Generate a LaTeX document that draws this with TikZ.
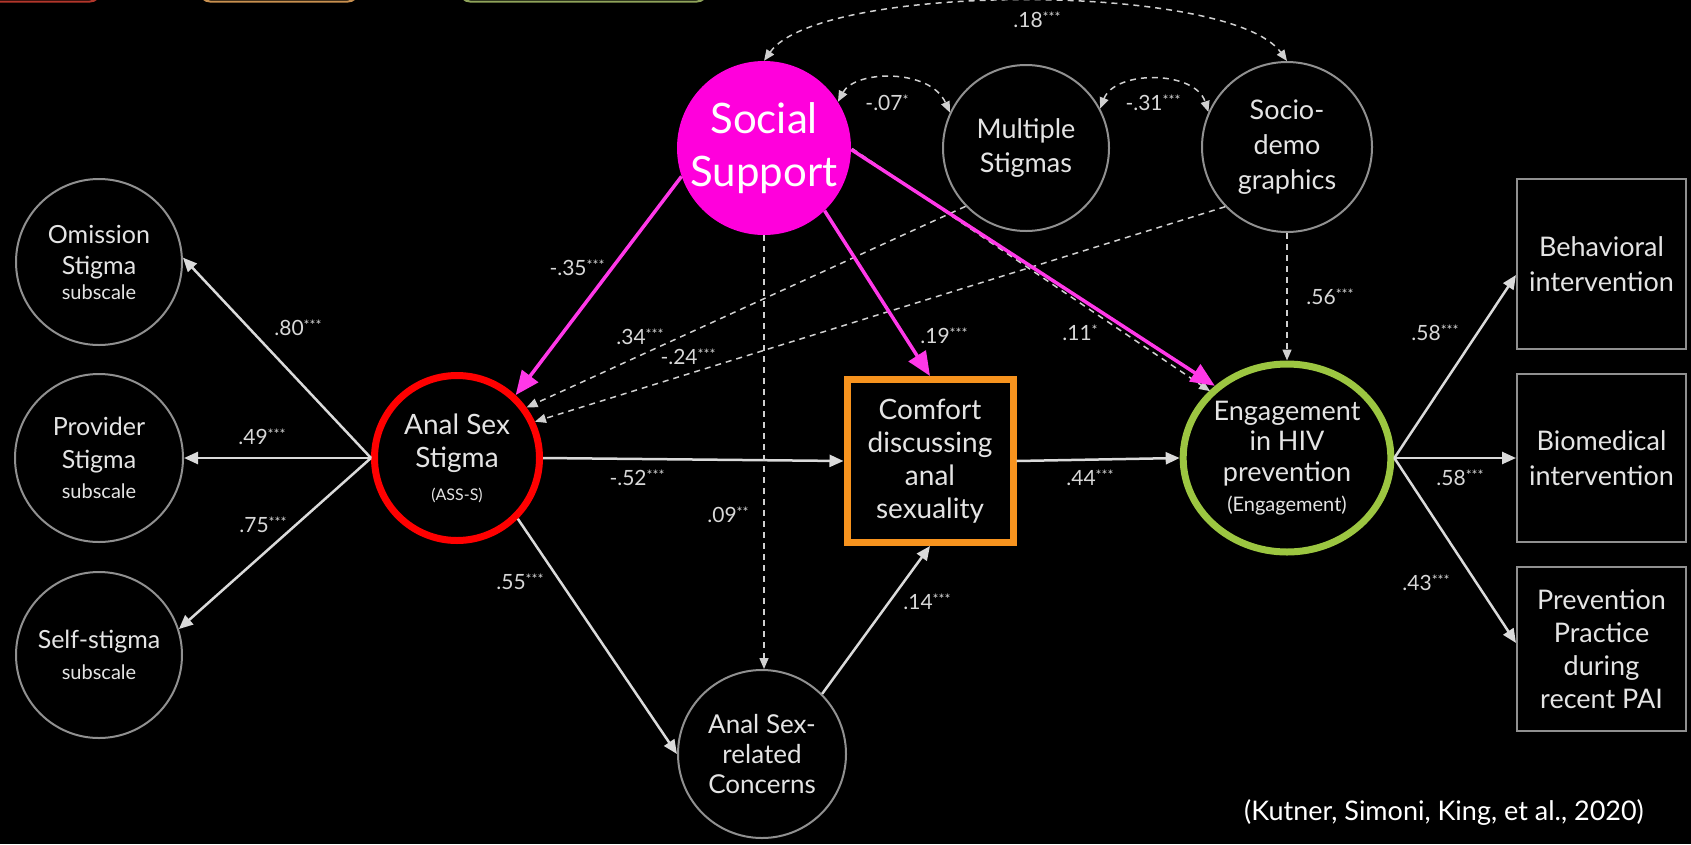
\documentclass[tikz,border=0pt]{standalone}
\usepackage{fontspec}
\setmainfont{Lato}
\usetikzlibrary{arrows.meta,shapes.geometric,calc}
\definecolor{txt}{HTML}{E4E4E4}
\definecolor{lblc}{HTML}{D8D8D8}
\definecolor{ring}{HTML}{909090}
\definecolor{arr}{HTML}{DADADA}
\definecolor{dshc}{HTML}{D0D0D0}
\definecolor{mag}{HTML}{FF00DC}
\definecolor{magl}{HTML}{FF38E8}
\definecolor{redc}{HTML}{FF0000}
\definecolor{orc}{HTML}{F7931E}
\definecolor{grc}{HTML}{9CC641}
\definecolor{legred}{HTML}{B3362B}
\definecolor{legor}{HTML}{C8904F}
\definecolor{leggr}{HTML}{8FA35A}
\newcommand{\myfs}[2]{\fontsize{#1}{#2}\selectfont}
\newcommand{\stars}[1]{\raisebox{5pt}{\myfs{14}{14}#1}}
\tikzset{
  circ/.style={circle, draw=ring, line width=2pt, text=txt, align=center, inner sep=0pt, minimum size=#1},
  rbox/.style={rectangle, draw=ring, line width=2pt, text=txt, align=center, inner sep=0pt, minimum width=169pt, minimum height=#1, font=\myfs{27}{35}},
  arw/.style={draw=arr, line width=2.5pt, -{Triangle[length=14pt,width=12pt]}},
  dsh/.style={draw=dshc, line width=1.5pt, dash pattern=on 6pt off 5pt, -{Triangle[length=11pt,width=9pt]}},
  dshb/.style={draw=dshc, line width=1.5pt, dash pattern=on 6pt off 5pt, {Triangle[length=11pt,width=9pt]}-{Triangle[length=11pt,width=9pt]}},
  marw/.style={draw=magl, line width=3.5pt, -{Triangle[length=24pt,width=20pt]}},
  lbl/.style={text=lblc, font=\myfs{21}{24}, inner sep=0pt}
}
\begin{document}
\begin{tikzpicture}[x=1pt,y=-1pt]
\fill[black] (0,0) rectangle (1691,844);
\useasboundingbox (0,0) rectangle (1691,844);
% clipped legend boxes at the top edge
\begin{scope}
\clip (0,0) rectangle (1691,844);
\draw[legred, line width=2pt, rounded corners=10pt] (-20,-60) rectangle (100,1.5);
\draw[legor, line width=2pt, rounded corners=10pt] (200,-60) rectangle (358,1.5);
\draw[leggr, line width=2pt, rounded corners=10pt] (460,-60) rectangle (707,1.5);
\end{scope}

% nodes
\node[circ=166pt, font=\myfs{25}{31}] (om) at (99,262) {Omission\\Stigma\\[-6pt]{\myfs{20}{24}subscale}};
\node[circ=168pt, font=\myfs{25}{33}] (prov) at (99,458) {Provider\\Stigma\\[-3pt]{\myfs{20}{24}subscale}};
\node[circ=166pt, font=\myfs{25}{31}] (self) at (99,655) {Self-stigma\\{\myfs{20}{24}subscale}};
\node[circle, draw=redc, line width=7pt, text=txt, align=center, inner sep=0pt, minimum size=165pt, font=\myfs{28}{33}] (ass) at (457,458)
  {Anal Sex\\Stigma\\{\myfs{16}{20}(ASS-S)}};
\node[circle, fill=mag, text=white, align=center, inner sep=0pt, minimum size=174pt, font=\myfs{42}{53}] (ss) at (764,148)
  {Social\\Support};
\node[circ=166pt, font=\myfs{27}{34}] (ms) at (1026,148) {Multiple\\Stigmas};
\node[circ=170pt, font=\myfs{27}{35}] (socio) at (1287,147) {Socio-\\demo\\graphics};
\node[rectangle, draw=orc, line width=7pt, text=txt, align=center, inner sep=0pt, minimum width=166pt, minimum height=163pt, font=\myfs{28}{33}] (comf) at (930,461)
  {Comfort\\discussing\\anal\\sexuality};
\node[circ=168pt, font=\myfs{26}{30}] (asrc) at (762,754) {Anal Sex-\\related\\Concerns};
\node[ellipse, draw=grc, line width=7pt, text=txt, align=center, inner sep=0pt, minimum width=180pt, minimum height=188pt, font=\myfs{27}{30.5}] (eng) at (1287,458)
  {Engagement\\in HIV\\prevention\\{\myfs{20}{24}(Engagement)}};
\node[rbox=170pt] (beh) at (1601.5,264) {Behavioral\\intervention};
\node[rbox=168pt] (bio) at (1601.5,458) {Biomedical\\intervention};
\node[rbox=164pt, font=\myfs{27}{33}] (prev) at (1601.5,649) {Prevention\\Practice\\during\\recent PAI};

% measurement arrows
\draw[arw] (ass.west) -- (om.3);
\draw[arw] (ass.west) -- (prov.east);
\draw[arw] (ass.west) -- (self.18);
\draw[arw] (ass.east) -- (comf.west);
\draw[arw] (ass.-45) -- (asrc.west);
\draw[arw] (asrc.45) -- (comf.south);
\draw[arw] (comf.east) -- (eng.west);
\draw[arw] (eng.east) -- ([yshift=-11pt]beh.west);
\draw[arw] (eng.east) -- (bio.west);
\draw[arw] (eng.east) -- ([yshift=6pt]prev.west);

% dashed covariate paths
\draw[dsh] (ms.224) -- (ass.36);
\draw[dsh] (socio.224) -- (ass.25);
\draw[dsh] (ss.south) -- (ss.south |- asrc.north);
\draw[dsh] (socio.south) -- (socio.south |- eng.north);
\draw[dsh] ([xshift=1pt,yshift=1pt]ss.-1) -- ([xshift=-2pt,yshift=-3pt]eng.137);
\draw[dshb] (ss.north) .. controls (820,-18) and (1230,-18) .. (socio.north);
\draw[dshb] (ss.32) .. controls (855,70) and (930,68) .. (ms.155);
\draw[dshb] (ms.28) .. controls (1115,70) and (1195,70) .. (socio.156);

% social support paths (highlighted)
\draw[marw] (ss.199) -- (ass.47);
\draw[marw] (ss.-46) -- (comf.north);
\draw[marw] (ss.-1) -- (eng.135);

% labels
\node[lbl] (l18) at (1037,20) {.18\stars{***}};
\node[lbl] (l07) at (887,103) {-.07\stars{*}};
\node[lbl] (l31) at (1153,103) {-.31\stars{***}};
\node[lbl] (l35) at (577,268) {-.35\stars{***}};
\node[lbl] (l34) at (640,337) {.34\stars{***}};
\node[lbl] (l24) at (688,357) {-.24\stars{***}};
\node[lbl] (l19) at (944,336) {.19\stars{***}};
\node[lbl] (l52) at (637,478) {-.52\stars{***}};
\node[lbl] (l09) at (728,515) {.09\stars{**}};
\node[lbl] (l55) at (520,582) {.55\stars{***}};
\node[lbl] (l80) at (298,328) {.80\stars{***}};
\node[lbl] (l49) at (262,437) {.49\stars{***}};
\node[lbl] (l75) at (263,525) {.75\stars{***}};
\node[lbl] (l14) at (927,602) {.14\stars{***}};
\node[lbl] (l11) at (1080,333) {.11\stars{*}};
\node[lbl] (l56) at (1330,297) {.56\stars{***}};
\node[lbl] (l44) at (1090,478) {.44\stars{***}};
\node[lbl] (l58a) at (1435,333) {.58\stars{***}};
\node[lbl] (l58b) at (1460,478) {.58\stars{***}};
\node[lbl] (l43) at (1426,583) {.43\stars{***}};

\node[text=white, font=\myfs{27}{30}, inner sep=0pt] (cite) at (1444,812) {(Kutner, Simoni, King, et al., 2020)};
\end{tikzpicture}
\end{document}
